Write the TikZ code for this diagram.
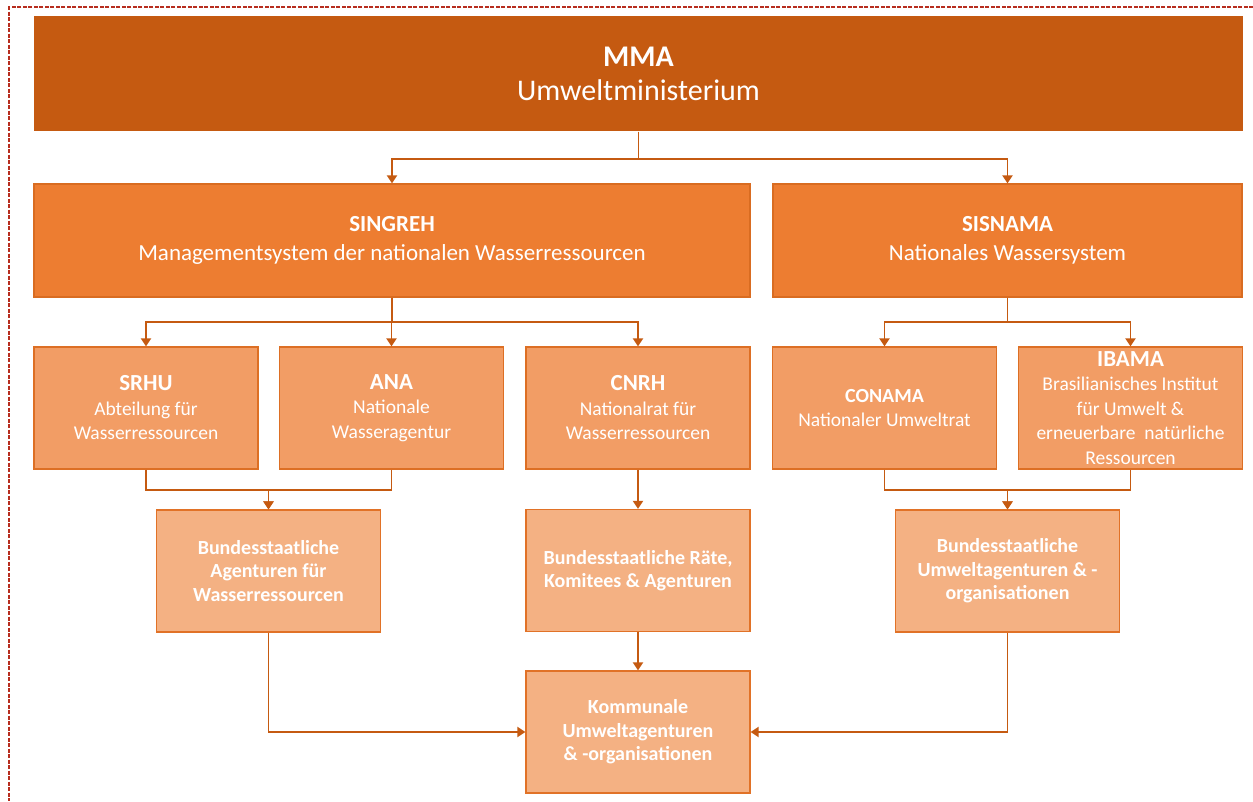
\documentclass[tikz,border=0pt]{standalone}
\usepackage{fontspec}
\setmainfont{Carlito}
\usetikzlibrary{arrows.meta}

\definecolor{mmaorange}{HTML}{C55A11}
\definecolor{sysorange}{HTML}{ED7D31}
\definecolor{framered}{RGB}{183,45,30}

\newcommand{\orgtitle}[1]{{\bfseries\fontsize{23}{27}\selectfont #1}}

\tikzset{
  orgbox/.style={rectangle, align=center, text=white, inner sep=0pt, line width=1.2pt},
  toplevel/.style={orgbox, fill=mmaorange, minimum width=1209pt, minimum height=115pt, font=\fontsize{30}{34}\selectfont},
  syslevel/.style={orgbox, fill=sysorange, draw=mmaorange!50!sysorange, minimum height=113pt, font=\fontsize{23}{29}\selectfont},
  unitlevel/.style={orgbox, fill=sysorange!75!white, draw=mmaorange!40!sysorange, minimum width=224pt, minimum height=122pt, font=\fontsize{19.5}{24.5}\selectfont},
  statelevel/.style={orgbox, fill=sysorange!60!white, draw=mmaorange!30!sysorange, minimum width=224pt, minimum height=122pt, font=\bfseries\fontsize{20}{23.5}\selectfont},
  link/.style={draw=mmaorange, line width=1.9pt, -{Triangle[width=10pt,length=8pt]}},
}

\begin{document}
\begin{tikzpicture}[x=1pt,y=-1pt]
  \useasboundingbox (0,0) rectangle (1253,801);
  \draw[framered, line width=2pt, dash pattern=on 4pt off 1.5pt] (1253,7) -- (9,7) -- (9,801);

  % ministry and the two systems
  \node[toplevel] (mma) at (638.5,73.5) {\textbf{MMA}\\Umweltministerium};
  \node[syslevel, minimum width=716pt] (singreh) at (392,240.5)
    {\textbf{SINGREH}\\Managementsystem der nationalen Wasserressourcen};
  \node[syslevel, minimum width=469pt] (sisnama) at (1007.5,240.5)
    {\textbf{SISNAMA}\\Nationales Wassersystem};

  % federal bodies
  \node[unitlevel] (srhu) at (146,408) {\orgtitle{SRHU}\\Abteilung für\\Wasserressourcen};
  \node[unitlevel] (ana) at (391.5,408) {\orgtitle{ANA}\\Nationale\\Wasseragentur};
  \node[unitlevel] (cnrh) at (638,408) {\orgtitle{CNRH}\\Nationalrat für\\Wasserressourcen};
  \node[unitlevel] (conama) at (884.5,408)
    {{\bfseries\fontsize{20}{24}\selectfont CONAMA}\\Nationaler Umweltrat};
  \node[unitlevel] (ibama) at (1130.5,408)
    {\orgtitle{IBAMA}\\Brasilianisches Institut\\für Umwelt \&\\erneuerbare\ \ natürliche\\Ressourcen};

  % state and municipal level
  \node[statelevel] (bwa) at (268.5,571) {Bundesstaatliche\\Agenturen für\\Wasserressourcen};
  \node[statelevel] (brka) at (638,570.5) {Bundesstaatliche Räte,\\Komitees \& Agenturen};
  \node[statelevel] (buo) at (1007.5,571) {Bundesstaatliche\\Umweltagenturen \& -\\organisationen};
  \node[statelevel] (kom) at (638,732) {Kommunale\\Umweltagenturen\\\& -organisationen};

  % connectors
  \draw[link] (mma.south) -- ++(0,27) -| (singreh.north);
  \draw[link] (mma.south) -- ++(0,27) -| (sisnama.north);
  \draw[link] (singreh.south) -- ++(0,24) -| (srhu.north);
  \draw[link] (singreh.south) -- ++(0,24) -| (ana.north);
  \draw[link] (singreh.south) -- ++(0,24) -| (cnrh.north);
  \draw[link] (sisnama.south) -- ++(0,24) -| (conama.north);
  \draw[link] (sisnama.south) -- ++(0,24) -| (ibama.north);
  \draw[link] (srhu.south) -- ++(0,20) -| (bwa.north);
  \draw[link] (ana.south) -- ++(0,20) -| (bwa.north);
  \draw[link] (cnrh.south) -- (brka.north);
  \draw[link] (conama.south) -- ++(0,20) -| (buo.north);
  \draw[link] (ibama.south) -- ++(0,20) -| (buo.north);
  \draw[link] (brka.south) -- (kom.north);
  \draw[link] (bwa.south) |- (kom.west);
  \draw[link] (buo.south) |- (kom.east);
\end{tikzpicture}
\end{document}
